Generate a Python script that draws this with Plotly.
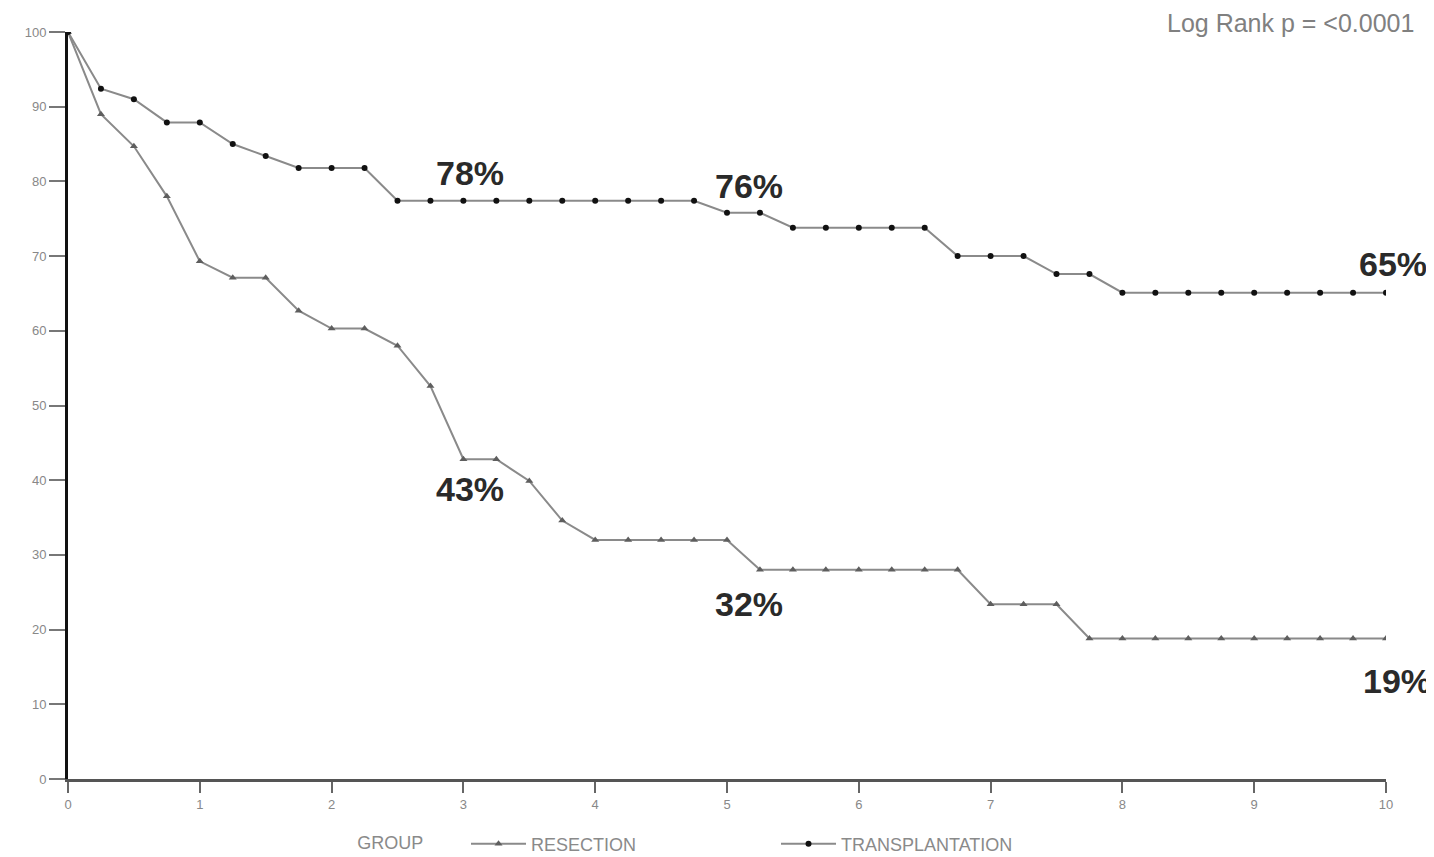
import plotly.graph_objects as go

years = [0, 0.25, 0.5, 0.75, 1, 1.25, 1.5, 1.75, 2, 2.25, 2.5, 2.75, 3, 3.25, 3.5, 3.75,
         4, 4.25, 4.5, 4.75, 5, 5.25, 5.5, 5.75, 6, 6.25, 6.5, 6.75, 7, 7.25, 7.5, 7.75,
         8, 8.25, 8.5, 8.75, 9, 9.25, 9.5, 9.75, 10]

resection = [100, 89.0, 84.7, 78.0, 69.3, 67.1, 67.1, 62.7, 60.3, 60.3, 58.0, 52.6,
             42.8, 42.8, 39.9, 34.6, 32.0, 32.0, 32.0, 32.0, 32.0, 28.0, 28.0, 28.0,
             28.0, 28.0, 28.0, 28.0, 23.4, 23.4, 23.4, 18.8, 18.8, 18.8, 18.8, 18.8,
             18.8, 18.8, 18.8, 18.8, 18.8]

transplantation = [100, 92.4, 91.0, 87.9, 87.9, 85.0, 83.4, 81.8, 81.8, 81.8, 77.4,
                   77.4, 77.4, 77.4, 77.4, 77.4, 77.4, 77.4, 77.4, 77.4, 75.8, 75.8,
                   73.8, 73.8, 73.8, 73.8, 73.8, 70.0, 70.0, 70.0, 67.6, 67.6, 65.1,
                   65.1, 65.1, 65.1, 65.1, 65.1, 65.1, 65.1, 65.1]

y_ticks = [0, 10, 20, 30, 40, 50, 60, 70, 80, 90, 100]
x_ticks = [0, 1, 2, 3, 4, 5, 6, 7, 8, 9, 10]

# percentage labels, positions in data units (years, %)
pct_labels = ["78%", "76%", "65%", "43%", "32%", "19%"]
pct_x = [3.05, 5.17, 10.05, 3.05, 5.17, 10.08]
pct_y = [81.1, 79.4, 68.9, 38.8, 23.4, 13.1]

X_MAX = 10
Y_MAX = 100

FONT = "Liberation Sans, Arial, sans-serif"

fig = go.Figure()
fig.add_trace(go.Scatter(
    x=years, y=resection, mode="lines+markers", name="RESECTION",
    line=dict(color="#8a8a8a", width=2),
    marker=dict(symbol="triangle-up", size=7, color="#5e5e5e"),
))
fig.add_trace(go.Scatter(
    x=years, y=transplantation, mode="lines+markers", name="TRANSPLANTATION",
    line=dict(color="#8a8a8a", width=2),
    marker=dict(symbol="circle", size=6, color="#111111"),
))

for t, xx, yy in zip(pct_labels, pct_x, pct_y):
    fig.add_annotation(x=xx / X_MAX, y=yy / Y_MAX, text="<b>" + t + "</b>", showarrow=False,
                       xref="paper", yref="paper", xanchor="center", yanchor="middle",
                       font=dict(family=FONT, size=34, color="#2a2a2a"))

fig.add_annotation(x=1.023, y=1.012, xref="paper", yref="paper", text="Log Rank p = <0.0001",
                   showarrow=False, xanchor="right", yanchor="middle",
                   font=dict(family=FONT, size=25, color="#808080"))

fig.update_layout(
    width=1434, height=857,
    margin=dict(l=60, r=56, t=24, b=86, autoexpand=False),
    plot_bgcolor="white", paper_bgcolor="white",
    font=dict(family=FONT, color="#888888"),
    showlegend=True,
    legend=dict(orientation="h", x=0.218, xanchor="left", y=-0.087, yanchor="middle",
                title=dict(text="GROUP       ", font=dict(size=18, color="#8a8a8a")),
                font=dict(size=18, color="#8a8a8a"), entrywidth=240, itemwidth=55),
)
fig.update_xaxes(range=[0, X_MAX], tickvals=x_ticks, ticktext=[str(v) for v in x_ticks],
                 showgrid=False, zeroline=False, showline=True, linecolor="#555555",
                 linewidth=3, ticks="outside", ticklen=11, tickcolor="#666666", tickwidth=2,
                 tickfont=dict(size=13, color="#888888"))
fig.update_yaxes(range=[0, Y_MAX], tickvals=y_ticks, ticktext=[str(v) for v in y_ticks],
                 showgrid=False, zeroline=False, showline=True, linecolor="#111111",
                 linewidth=3, ticks="outside", ticklen=16, tickcolor="#777777", tickwidth=2,
                 tickfont=dict(size=13, color="#888888"))

fig.write_html("out.html")
